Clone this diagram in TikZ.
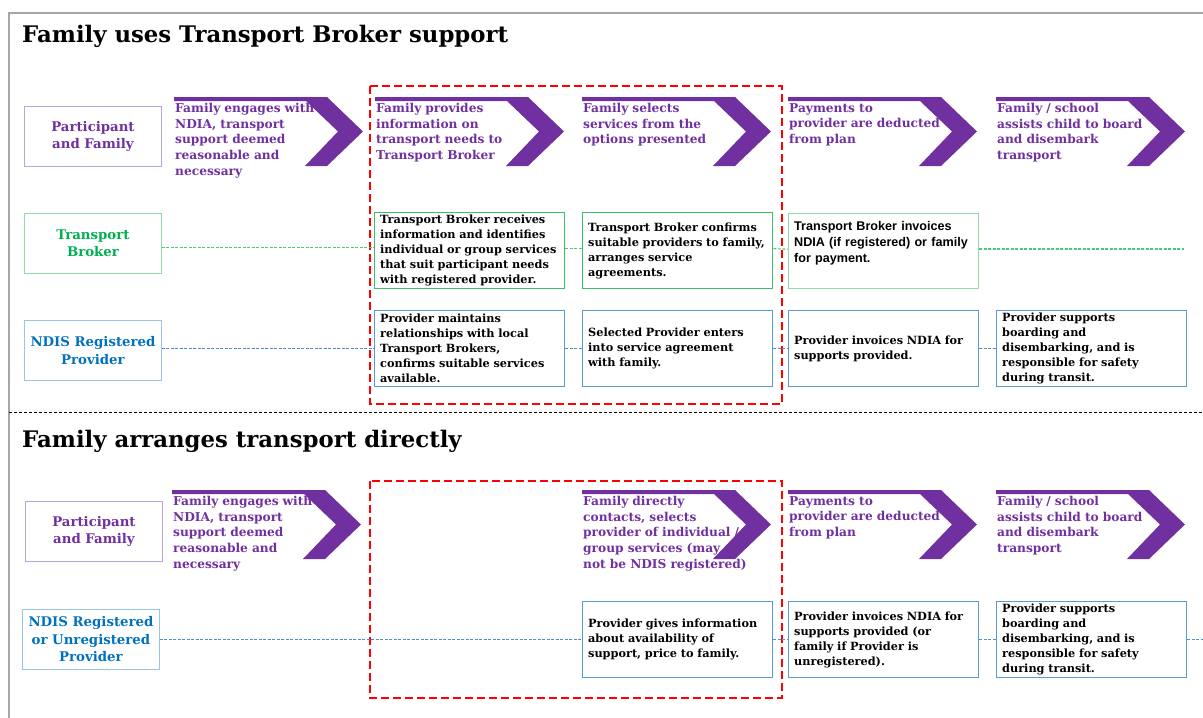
\documentclass[tikz,border=0pt]{standalone}
\usepackage{fontspec}
\setmainfont{DejaVu Serif}
\newfontfamily\arialfont{Liberation Sans}
\usetikzlibrary{positioning}
\definecolor{chevpurple}{HTML}{7030A0}
\definecolor{lightpurple}{HTML}{BBA5DC}
\definecolor{brokergreen}{HTML}{00B050}
\definecolor{lightgreen}{HTML}{8FDBA9}
\definecolor{boxgreen}{HTML}{3CBF6B}
\definecolor{linkgreen}{HTML}{4CC974}
\definecolor{provblue}{HTML}{0070C0}
\definecolor{lightblue}{HTML}{9DC3E6}
\definecolor{boxblue}{HTML}{5B9BD5}
\definecolor{linkblue}{HTML}{4A90D2}
\definecolor{framegray}{HTML}{A6A6A6}
\definecolor{alertred}{HTML}{FF0000}
\newcommand{\chevron}[4]{
	\fill[chevpurple] (#2,#3) -- ++(153,0) -- ++(36,34.5) -- ++(-36,34.5) -- ++(-22,0) -- ++(33,-34.5) -- ++(-32,-30.5) -- (#2,#3+4) -- cycle;
	\node[steptext] (#1) at (#2+1,#3+6) {#4};
}
\tikzset{
	rolebox/.style={draw, line width=0.9pt, minimum width=137pt, minimum height=60pt, inner sep=1pt, align=center, anchor=north west, font=\bfseries\fontsize{13.3}{17.5}\selectfont},
	stepbox/.style={draw, line width=1.3pt, text width=179pt, minimum height=76pt, inner xsep=5.5pt, inner ysep=0pt, align=left, anchor=north west, font=\bfseries\fontsize{11.3}{15}\selectfont},
	steptext/.style={text=chevpurple, text width=180pt, inner sep=0pt, align=left, anchor=north west, font=\bfseries\fontsize{12.2}{15.7}\selectfont},
	heading/.style={anchor=base west, inner sep=0pt, font=\bfseries\fontsize{22.8}{27}\selectfont},
	brokerlink/.style={draw=linkgreen, dash pattern=on 3pt off 1.5pt, line width=1.1pt},
	providerlink/.style={draw=linkblue, dash pattern=on 3pt off 1.5pt, line width=1.1pt},
	focusbox/.style={draw=alertred, line width=2.6pt, dash pattern=on 8pt off 4pt}
}
\begin{document}
\begin{tikzpicture}[x=1pt, y=-1pt]
	\useasboundingbox (0,0) rectangle (1203,718);
	\draw[framegray, line width=1.2pt] (1203,13) -- (9,13) -- (9,718);
	\draw[black, line width=0.7pt, dash pattern=on 3pt off 2pt] (9,412) -- (1203,412);
	\node[heading] (title1) at (22,42) {Family uses Transport Broker support};
	\node[heading] (title2) at (22,447) {Family arranges transport directly};
	\draw[focusbox] (370,86) rectangle (782,404);
	\draw[focusbox] (370,481) rectangle (782,698);

	\node[rolebox, draw=lightpurple, text=chevpurple] (family1) at (24,106) {Participant\\and Family};
	\node[rolebox, draw=lightgreen, text=brokergreen] (broker) at (24,213) {Transport\\Broker};
	\node[rolebox, draw=lightblue, text=provblue] (provider1) at (24,320) {NDIS Registered\\Provider};
	\chevron{engage1}{174}{97}{Family engages with\\NDIA, transport\\support deemed\\reasonable and\\necessary}
	\chevron{inform}{375}{97}{Family provides\\information on\\transport needs to\\Transport Broker}
	\chevron{select}{582}{97}{Family selects\\services from the\\options presented}
	\chevron{pay1}{788}{97}{Payments to\\provider are deducted\\from plan}
	\chevron{board1}{996}{97}{Family / school\\assists child to board\\and disembark\\transport}

	\node[stepbox, draw=boxgreen] (receive) at (374,212) {Transport Broker receives\\information and identifies\\individual or group services\\that suit participant needs\\with registered provider.};
	\node[stepbox, draw=boxgreen] (confirm) at (582,212) {Transport Broker confirms\\suitable providers to family,\\arranges service\\agreements.};
	\node[stepbox, draw=lightgreen, font=\arialfont\bfseries\fontsize{12.6}{16}\selectfont, minimum height=75pt] (brokerinv) at (788,213) {Transport Broker invoices\\NDIA (if registered) or family\\for payment.\\[-3pt]\strut};
	\coordinate (brokerend) at (1184,249);
	\node[stepbox, draw=boxblue] (maintain) at (374,310) {Provider maintains\\relationships with local\\Transport Brokers,\\confirms suitable services\\available.};
	\node[stepbox, draw=boxblue] (enter) at (582,310) {Selected Provider enters\\into service agreement\\with family.};
	\node[stepbox, draw=boxblue] (invoice1) at (788,310) {Provider invoices NDIA for\\supports provided.};
	\node[stepbox, draw=boxblue] (support1) at (996,310) {Provider supports\\boarding and\\disembarking, and is\\responsible for safety\\during transit.};

	\node[rolebox, draw=lightpurple, text=chevpurple] (family2) at (25,501) {Participant\\and Family};
	\node[rolebox, draw=lightblue, text=provblue] (provider2) at (22,609) {NDIS Registered\\or Unregistered\\Provider};
	\chevron{engage2}{172}{490}{Family engages with\\NDIA, transport\\support deemed\\reasonable and\\necessary}
	\chevron{contact}{582}{490}{Family directly\\contacts, selects\\provider of individual /\\group services (may\\not be NDIS registered)}
	\chevron{pay2}{788}{490}{Payments to\\provider are deducted\\from plan}
	\chevron{board2}{996}{490}{Family / school\\assists child to board\\and disembark\\transport}

	\node[stepbox, draw=boxblue] (give) at (582,601) {Provider gives information\\about availability of\\support, price to family.};
	\node[stepbox, draw=boxblue] (invoice2) at (788,601) {Provider invoices NDIA for\\supports provided (or\\family if Provider is\\unregistered).};
	\node[stepbox, draw=boxblue] (support2) at (996,601) {Provider supports\\boarding and\\disembarking, and is\\responsible for safety\\during transit.};
	\coordinate (providerend) at (1203,639);

	\path[brokerlink]
	([yshift=3pt]receive.west -| broker.east) edge ([yshift=3pt]receive.west)
	([yshift=2pt]receive.east) edge ([yshift=2pt]confirm.west)
	([yshift=2pt]confirm.east) edge ([yshift=2pt]brokerinv.west)
	(brokerend -| brokerinv.east) edge (brokerend);
	\path[providerlink]
	(provider1.east |- maintain.west) edge (maintain.west)
	(maintain) edge (enter)
	(enter) edge (invoice1)
	(invoice1) edge (support1)
	(provider2.east |- give.west) edge (give.west)
	(give) edge (invoice2)
	(invoice2) edge (support2)
	(support2.east) edge (support2.east -| providerend);
\end{tikzpicture}
\end{document}
